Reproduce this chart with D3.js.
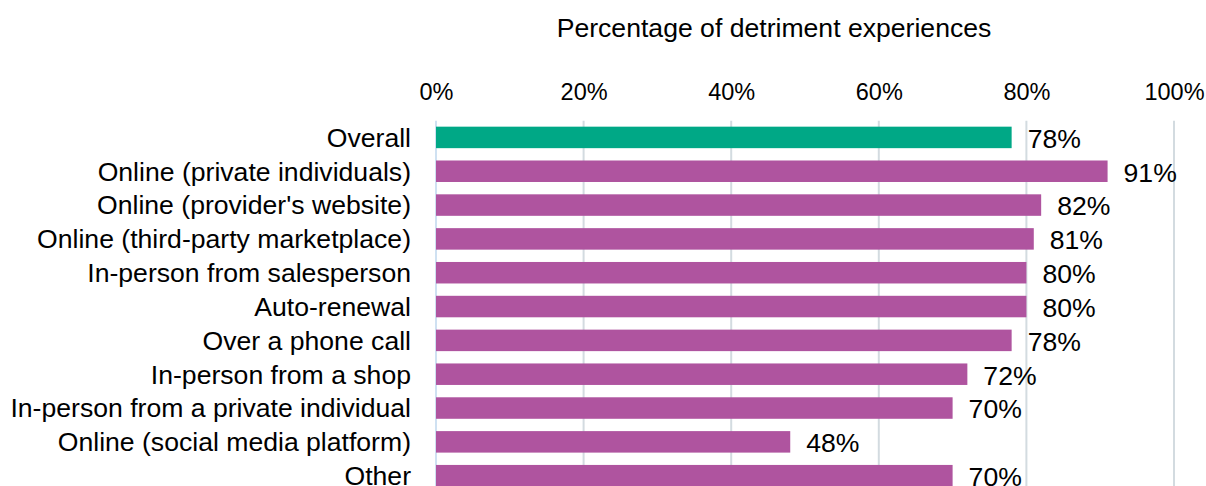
<!DOCTYPE html>
<html>
<head>
<meta charset="utf-8">
<script src="https://cdn.jsdelivr.net/npm/d3@7"></script>
<style>
  html, body { margin: 0; padding: 0; background: #fff; }
  svg { display: block; font-family: "Liberation Sans", Arial, sans-serif; }
</style>
</head>
<body>
<svg id="chart" width="1206" height="486"></svg>
<script>
// Channels through which the detriment was experienced
const categories = [
  "Overall",
  "Online (private individuals)",
  "Online (provider's website)",
  "Online (third-party marketplace)",
  "In-person from salesperson",
  "Auto-renewal",
  "Over a phone call",
  "In-person from a shop",
  "In-person from a private individual",
  "Online (social media platform)",
  "Other"
];
// Share of detriment experiences (%)
const values = [78, 91, 82, 81, 80, 80, 78, 72, 70, 48, 70];
const tickValues = [0, 20, 40, 60, 80, 100];
const title = "Percentage of detriment experiences";

const svg = d3.select("#chart");

const x = d3.scaleLinear().domain([0, 100]).range([436, 1174]);
const y = d3.scaleBand()
  .domain(categories)
  .range([120.5, 492.6])
  .paddingInner(0.3645)
  .paddingOuter(0.18225);

// Title
svg.append("text")
  .attr("x", 774)
  .attr("y", 37)
  .attr("text-anchor", "middle")
  .attr("font-size", 26.6)
  .attr("fill", "#000")
  .text(title);

// Vertical gridlines
svg.append("g")
  .selectAll("line")
  .data(tickValues)
  .join("line")
  .attr("x1", d => x(d))
  .attr("x2", d => x(d))
  .attr("y1", 120.7)
  .attr("y2", 486)
  .attr("stroke", d => d === 0 ? "#cfe1f2" : "#d3dbe0")
  .attr("stroke-width", 2);

// Top axis tick labels
const axis = d3.axisTop(x)
  .tickValues(tickValues)
  .tickFormat(d => d + "%")
  .tickSize(0)
  .tickPadding(0);
const ax = svg.append("g")
  .attr("transform", "translate(0,100)")
  .call(axis);
ax.select(".domain").remove();
ax.selectAll("text")
  .attr("font-family", "Liberation Sans, Arial, sans-serif")
  .attr("font-size", 23.5)
  .attr("fill", "#000")
  .attr("dy", 0);

// Bars
svg.append("g")
  .selectAll("rect")
  .data(categories)
  .join("rect")
  .attr("x", x(0))
  .attr("y", d => y(d))
  .attr("width", (d, i) => x(values[i]) - x(0))
  .attr("height", y.bandwidth())
  .attr("fill", (d, i) => i === 0 ? "#00a886" : "#af549f");

// Category labels
svg.append("g")
  .selectAll("text")
  .data(categories)
  .join("text")
  .attr("x", 411)
  .attr("y", d => y(d) + y.bandwidth() / 2)
  .attr("dy", "0.35em")
  .attr("text-anchor", "end")
  .attr("font-size", 26.6)
  .attr("fill", "#000")
  .text(d => d);

// Value labels
svg.append("g")
  .selectAll("text")
  .data(categories)
  .join("text")
  .attr("x", (d, i) => x(values[i]) + 16)
  .attr("y", d => y(d) + y.bandwidth() / 2 + 1)
  .attr("dy", "0.35em")
  .attr("font-size", 26.6)
  .attr("fill", "#000")
  .text((d, i) => values[i] + "%");
</script>
</body>
</html>
